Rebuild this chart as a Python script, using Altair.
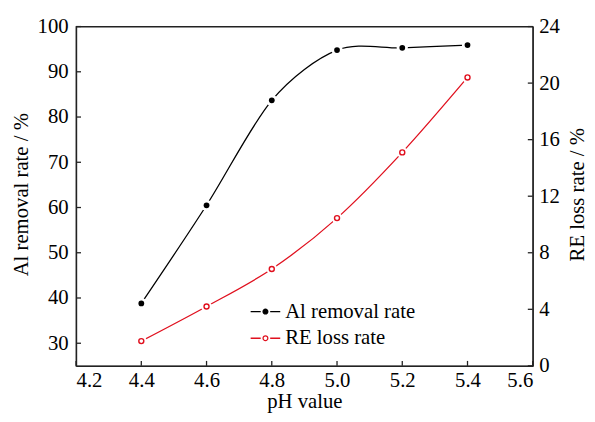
import altair as alt
import pandas as pd

ph = [4.4, 4.6, 4.8, 5.0, 5.2, 5.4]
al_removal = [38.8, 60.5, 83.7, 94.8, 95.3, 95.9]
re_loss = [1.75, 4.2, 6.85, 10.45, 15.1, 20.4]

series_names = ["Al removal rate", "RE loss rate"]
x_ticks = [4.2, 4.4, 4.6, 4.8, 5.0, 5.2, 5.4, 5.6]
left_ticks = [30, 40, 50, 60, 70, 80, 90, 100]
right_ticks = [0, 4, 8, 12, 16, 20, 24]

RED = "#e0101e"
AXC = "#222222"
FONT = "Liberation Serif"
FS = 21
W, H = 463, 344

al_df = pd.DataFrame({"ph": ph, "value": al_removal, "series": series_names[0]})
re_df = pd.DataFrame({"ph": ph, "value": re_loss, "series": series_names[1]})
xt_df = pd.DataFrame({"t": x_ticks})
lt_df = pd.DataFrame({"t": left_ticks})
rt_df = pd.DataFrame({"t": right_ticks})
leg_df = pd.DataFrame({"series": series_names})

# custom legend symbols: line - marker - line
path_line = "M-1,0L-0.32,0M0.32,0L1,0"
circ = "M0.16,0A0.16,0.16 0 1,1 -0.16,0A0.16,0.16 0 1,1 0.16,0Z"
sym = path_line + circ

legend = alt.Legend(title=None, orient="none", legendX=176, legendY=273,
                    labelFont=FONT, labelFontSize=FS, labelColor="black",
                    symbolSize=900, symbolStrokeWidth=1.3, rowPadding=1,
                    labelOffset=4, symbolOffset=0)

xs = alt.Scale(domain=[4.2, 5.6], nice=False, zero=False)
x_axis = alt.Axis(values=x_ticks, format=".1f", title="pH value", grid=False, ticks=False,
                  titleY=36, titleBaseline="middle")

ly = alt.Scale(domain=[25, 100], nice=False, zero=False)
ry = alt.Scale(domain=[0, 24], nice=False, zero=False)

left_axis = alt.Axis(values=left_ticks, title="Al removal rate / %", grid=False, ticks=False,
                     titleX=-55, titleY=H / 2 - 2, titleAngle=270, titleBaseline="middle",
                     titleAlign="center")
right_axis = alt.Axis(values=right_ticks, title="RE loss rate / %", grid=False,
                      orient="right", ticks=False, titleX=45, titleY=H / 2 - 2,
                      titleAngle=270, titleBaseline="middle", titleAlign="center")

color_scale = alt.Scale(domain=series_names, range=["black", RED])
fill_scale = alt.Scale(domain=series_names, range=["black", "white"])
shape_scale = alt.Scale(domain=series_names, range=[sym, sym])

X = alt.X("ph:Q", scale=xs, axis=x_axis)
YL = alt.Y("value:Q", scale=ly, axis=left_axis)
YR = alt.Y("value:Q", scale=ry, axis=right_axis)

# inward ticks
x_tick_marks = alt.Chart(xt_df).mark_rule(color=AXC, strokeWidth=1.3).encode(
    x=alt.X("t:Q", scale=xs, axis=x_axis), y=alt.value(H), y2=alt.value(H - 5))
l_tick_marks = alt.Chart(lt_df).mark_rule(color=AXC, strokeWidth=1.3).encode(
    y=alt.Y("t:Q", scale=ly, axis=left_axis), x=alt.value(0), x2=alt.value(5))
r_tick_marks = alt.Chart(rt_df).mark_rule(color=AXC, strokeWidth=1.3).encode(
    y=alt.Y("t:Q", scale=ry, axis=right_axis), x=alt.value(W), x2=alt.value(W - 5))

al_line = alt.Chart(al_df).mark_line(interpolate="cardinal", tension=0.1, strokeWidth=1.3,
                                     color="black").encode(x=X, y=YL)
al_halo = alt.Chart(al_df).mark_point(filled=True, size=130, color="white", opacity=1).encode(x=X, y=YL)
al_pts = alt.Chart(al_df).mark_point(filled=True, size=34, color="black", opacity=1).encode(x=X, y=YL)

re_line = alt.Chart(re_df).mark_line(interpolate="cardinal", tension=0.1, strokeWidth=1.3,
                                     color=RED).encode(x=X, y=YR)
re_halo = alt.Chart(re_df).mark_point(filled=True, size=120, color="white", opacity=1).encode(x=X, y=YR)
re_pts = alt.Chart(re_df).mark_point(filled=False, size=26, color=RED, opacity=1,
                                     strokeWidth=1.4, fill="white").encode(x=X, y=YR)

# legend-only layer (its marks sit outside the view and are clipped)
leg_layer = alt.Chart(leg_df).mark_point(clip=True, opacity=1, strokeWidth=1.3).encode(
    x=alt.value(-200), y=alt.value(-200),
    stroke=alt.Stroke("series:N", scale=color_scale, legend=legend),
    fill=alt.Fill("series:N", scale=fill_scale, legend=legend),
    shape=alt.Shape("series:N", scale=shape_scale, legend=legend))

left_layer = alt.layer(x_tick_marks, l_tick_marks, al_line, al_halo, al_pts, leg_layer)
right_layer = alt.layer(r_tick_marks, re_line, re_halo, re_pts)

chart = alt.layer(left_layer, right_layer).resolve_scale(y="independent").properties(
    width=W, height=H,
    autosize=alt.AutoSizeParams(type="none"),
    padding={"left": 69, "top": 16, "right": 55, "bottom": 46},
).configure_view(stroke=AXC, strokeWidth=1.3).configure_axis(
    labelFont=FONT, titleFont=FONT, labelFontSize=FS, titleFontSize=FS,
    labelColor="black", titleColor="black", titleFontWeight="normal",
    domainColor=AXC, domainWidth=1.3,
).configure_axisX(labelPadding=4).configure_axisLeft(labelPadding=8).configure_axisRight(labelPadding=6)

chart.save("out.html", embed_options={"renderer": "svg", "actions": False})
